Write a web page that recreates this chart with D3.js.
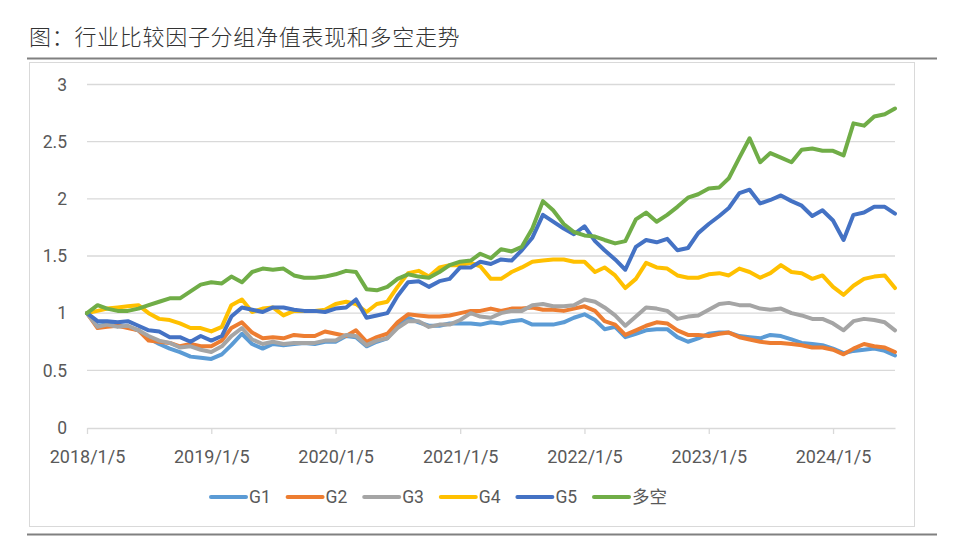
<!DOCTYPE html>
<html>
<head>
<meta charset="utf-8">
<script src="https://cdn.jsdelivr.net/npm/d3@7"></script>
<style>
  body { margin: 0; background: #fff; }
  svg text { font-family: Roboto, "Noto Sans CJK SC", sans-serif; }
</style>
</head>
<body>
<div id="chart"></div>
<script>
// monthly samples
const dates = [
  "2018/1/5","2018/2/5","2018/3/5","2018/4/5","2018/5/5","2018/6/5","2018/7/5","2018/8/5","2018/9/5","2018/10/5","2018/11/5","2018/12/5",
  "2019/1/5","2019/2/5","2019/3/5","2019/4/5","2019/5/5","2019/6/5","2019/7/5","2019/8/5","2019/9/5","2019/10/5","2019/11/5","2019/12/5",
  "2020/1/5","2020/2/5","2020/3/5","2020/4/5","2020/5/5","2020/6/5","2020/7/5","2020/8/5","2020/9/5","2020/10/5","2020/11/5","2020/12/5",
  "2021/1/5","2021/2/5","2021/3/5","2021/4/5","2021/5/5","2021/6/5","2021/7/5","2021/8/5","2021/9/5","2021/10/5","2021/11/5","2021/12/5",
  "2022/1/5","2022/2/5","2022/3/5","2022/4/5","2022/5/5","2022/6/5","2022/7/5","2022/8/5","2022/9/5","2022/10/5","2022/11/5","2022/12/5",
  "2023/1/5","2023/2/5","2023/3/5","2023/4/5","2023/5/5","2023/6/5","2023/7/5","2023/8/5","2023/9/5","2023/10/5","2023/11/5","2023/12/5",
  "2024/1/5","2024/2/5","2024/3/5","2024/4/5","2024/5/5","2024/6/5","2024/7/5"
];

const g1 = [
  1.00,0.89,0.90,0.89,0.88,0.85,0.78,0.73,0.69,0.66,0.62,0.61,
  0.60,0.64,0.72,0.82,0.73,0.69,0.73,0.72,0.73,0.74,0.73,0.75,
  0.75,0.80,0.79,0.71,0.75,0.78,0.89,0.96,0.92,0.89,0.89,0.91,
  0.91,0.91,0.90,0.92,0.91,0.93,0.94,0.90,0.90,0.90,0.92,0.96,
  0.99,0.94,0.86,0.88,0.79,0.82,0.85,0.86,0.86,0.79,0.75,0.78,
  0.82,0.83,0.83,0.80,0.79,0.78,0.81,0.80,0.77,0.74,0.73,0.72,
  0.69,0.65,0.67,0.68,0.69,0.67,0.63
];
const g2 = [
  1.00,0.87,0.88,0.89,0.87,0.85,0.76,0.75,0.74,0.71,0.73,0.71,
  0.71,0.76,0.87,0.92,0.83,0.78,0.79,0.78,0.81,0.80,0.80,0.84,
  0.82,0.80,0.85,0.75,0.79,0.82,0.92,0.99,0.98,0.97,0.97,0.98,
  1.00,1.02,1.02,1.04,1.02,1.04,1.04,1.05,1.03,1.03,1.02,1.04,
  1.06,1.02,0.93,0.90,0.81,0.85,0.89,0.92,0.91,0.85,0.81,0.81,
  0.80,0.82,0.83,0.79,0.77,0.75,0.74,0.74,0.73,0.72,0.70,0.70,
  0.68,0.64,0.69,0.73,0.71,0.70,0.66
];
const g3 = [
  1.00,0.88,0.90,0.88,0.89,0.85,0.80,0.76,0.74,0.70,0.71,0.68,
  0.66,0.71,0.80,0.87,0.77,0.73,0.75,0.73,0.74,0.74,0.74,0.76,
  0.76,0.81,0.80,0.72,0.76,0.78,0.87,0.93,0.93,0.88,0.90,0.90,
  0.94,1.00,0.97,0.96,1.00,1.02,1.02,1.07,1.08,1.06,1.06,1.07,
  1.12,1.10,1.05,0.98,0.89,0.97,1.05,1.04,1.02,0.95,0.97,0.98,
  1.03,1.08,1.09,1.07,1.07,1.04,1.03,1.04,1.00,0.98,0.95,0.95,
  0.91,0.85,0.93,0.95,0.94,0.92,0.85
];
const g4 = [
  1.00,1.02,1.04,1.05,1.06,1.07,1.00,0.95,0.94,0.91,0.87,0.87,
  0.84,0.88,1.07,1.12,1.01,1.04,1.05,0.98,1.02,1.02,1.02,1.03,
  1.08,1.10,1.08,1.01,1.08,1.10,1.23,1.35,1.37,1.32,1.40,1.42,
  1.42,1.44,1.41,1.30,1.30,1.36,1.40,1.45,1.46,1.47,1.47,1.45,
  1.45,1.36,1.40,1.33,1.22,1.30,1.44,1.40,1.39,1.33,1.31,1.31,
  1.34,1.35,1.33,1.39,1.36,1.31,1.35,1.42,1.36,1.35,1.30,1.33,
  1.23,1.16,1.24,1.30,1.32,1.33,1.22
];
const g5 = [
  1.00,0.93,0.93,0.92,0.93,0.89,0.85,0.84,0.79,0.79,0.75,0.80,
  0.76,0.80,0.97,1.05,1.03,1.01,1.05,1.05,1.03,1.02,1.02,1.01,
  1.04,1.05,1.12,0.96,0.98,1.00,1.15,1.27,1.28,1.23,1.28,1.30,
  1.40,1.40,1.45,1.43,1.47,1.46,1.55,1.66,1.86,1.80,1.74,1.69,
  1.76,1.63,1.55,1.47,1.38,1.58,1.64,1.62,1.65,1.55,1.57,1.70,
  1.78,1.85,1.92,2.05,2.08,1.96,1.99,2.03,1.98,1.94,1.85,1.90,
  1.81,1.64,1.86,1.88,1.93,1.93,1.87
];
const longShort = [
  1.00,1.07,1.04,1.02,1.02,1.04,1.07,1.10,1.13,1.13,1.19,1.25,
  1.27,1.26,1.32,1.27,1.36,1.39,1.38,1.39,1.33,1.31,1.31,1.32,
  1.34,1.37,1.36,1.21,1.20,1.23,1.30,1.34,1.32,1.31,1.36,1.42,
  1.45,1.46,1.52,1.48,1.56,1.54,1.58,1.74,1.98,1.90,1.78,1.71,
  1.68,1.67,1.64,1.61,1.63,1.82,1.88,1.80,1.86,1.93,2.01,2.04,
  2.09,2.10,2.18,2.36,2.53,2.32,2.40,2.36,2.32,2.43,2.44,2.42,
  2.42,2.38,2.66,2.64,2.72,2.74,2.79
];

const seriesNames = ["G1", "G2", "G3", "G4", "G5", "多空"];
const seriesValues = [g1, g2, g3, g4, g5, longShort];
const seriesColors = ["#5B9BD5", "#ED7D31", "#A5A5A5", "#FFC000", "#4472C4", "#70AD47"];
const xTickLabels = ["2018/1/5","2019/1/5","2020/1/5","2021/1/5","2022/1/5","2023/1/5","2024/1/5"];
const yTicks = [0, 0.5, 1, 1.5, 2, 2.5, 3];

const width = 960, height = 556;
const parse = d3.timeParse("%Y/%m/%d");

const svg = d3.select("#chart").append("svg")
  .attr("width", width)
  .attr("height", height);

// title and rules
svg.append("text")
  .attr("x", 29)
  .attr("y", 45)
  .attr("fill", "#333")
  .style("font-family", "'Noto Sans CJK SC', sans-serif")
  .style("font-size", "22px")
  .style("font-weight", 300)
  .style("letter-spacing", "0.7px")
  .text("图：行业比较因子分组净值表现和多空走势");

svg.append("line")
  .attr("x1", 27).attr("x2", 937)
  .attr("y1", 58.5).attr("y2", 58.5)
  .attr("stroke", "#808080")
  .attr("stroke-width", 2.2);

svg.append("rect")
  .attr("x", 29.5).attr("y", 62.5)
  .attr("width", 885).attr("height", 464)
  .attr("fill", "none")
  .attr("stroke", "#d9d9d9");

svg.append("line")
  .attr("x1", 27).attr("x2", 937)
  .attr("y1", 534.5).attr("y2", 534.5)
  .attr("stroke", "#808080")
  .attr("stroke-width", 2.2);

// scales
const x = d3.scaleTime()
  .domain([parse(dates[0]), parse(dates[dates.length - 1])])
  .range([87, 895]);

const y = d3.scaleLinear()
  .domain([0, 3])
  .range([427.5, 84.5]);

// gridlines
svg.append("g")
  .selectAll("line")
  .data(yTicks.filter(d => d > 0))
  .join("line")
  .attr("x1", 87).attr("x2", 895)
  .attr("y1", d => y(d)).attr("y2", d => y(d))
  .attr("stroke", "#d9d9d9")
  .attr("stroke-width", 1.3);

// y labels
svg.append("g")
  .selectAll("text")
  .data(yTicks)
  .join("text")
  .attr("x", 67)
  .attr("y", d => y(d))
  .attr("dy", "0.36em")
  .attr("text-anchor", "end")
  .attr("fill", "#595959")
  .style("font-size", "17.5px")
  .text(d => d);

// x axis
const xAxis = d3.axisBottom(x)
  .tickValues(xTickLabels.map(parse))
  .tickFormat(d3.timeFormat("%Y/%-m/%-d"))
  .tickSize(6)
  .tickSizeOuter(0);

const gx = svg.append("g")
  .attr("transform", "translate(0,428)")
  .call(xAxis);

gx.select(".domain").attr("stroke", "#d9d9d9").attr("stroke-width", 1.3);
gx.selectAll(".tick line").attr("stroke", "#d9d9d9").attr("stroke-width", 1.3);
gx.selectAll(".tick text")
  .attr("fill", "#595959")
  .attr("dy", "1.42em")
  .style("font-size", "18px")
  .style("font-family", "Roboto, sans-serif");

// lines
const line = d3.line()
  .x((d, i) => x(parse(dates[i])))
  .y(d => y(d));

svg.append("g")
  .selectAll("path")
  .data(seriesValues)
  .join("path")
  .attr("d", d => line(d))
  .attr("fill", "none")
  .attr("stroke", (d, i) => seriesColors[i])
  .attr("stroke-width", 4)
  .attr("stroke-linejoin", "round")
  .attr("stroke-linecap", "round");

// legend
const legend = svg.append("g")
  .attr("transform", "translate(209,497)");

const item = legend.selectAll("g")
  .data(seriesNames)
  .join("g")
  .attr("transform", (d, i) => `translate(${i * 76.6},0)`);

item.append("line")
  .attr("x1", 2).attr("x2", 37)
  .attr("stroke", (d, i) => seriesColors[i])
  .attr("stroke-width", 4)
  .attr("stroke-linecap", "round");

item.append("text")
  .attr("x", 40)
  .attr("dy", "0.36em")
  .attr("fill", "#595959")
  .style("font-size", "17.5px")
  .text(d => d);
</script>
</body>
</html>
